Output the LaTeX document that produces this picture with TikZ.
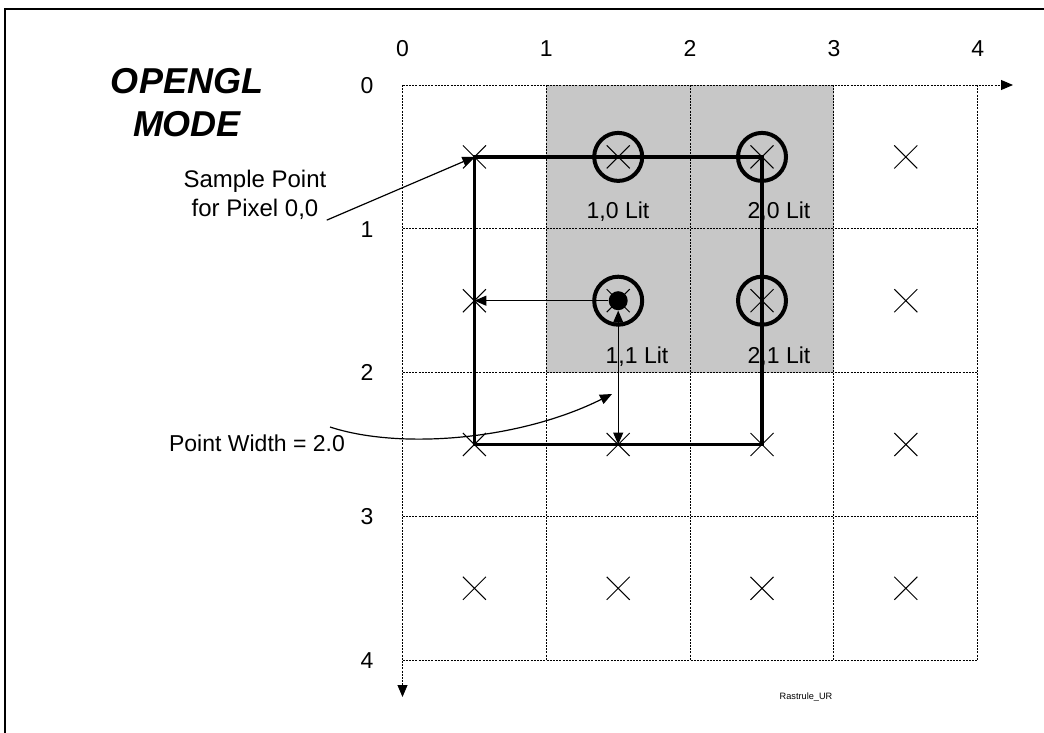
\documentclass[tikz,border=0pt]{standalone}
\usepackage{fontspec}
\setmainfont{Liberation Sans}
\usetikzlibrary{arrows.meta,shapes.misc}

\tikzset{
  dotgrid/.style = {line width=0.45pt, dash pattern=on 1pt off 0.6pt},
  sample/.style = {cross out, draw, line width=0.5pt, minimum size=11pt, inner sep=0pt},
  lit/.style = {line width=2pt},
  tip/.style = {line width=0.6pt, -{Triangle[length=6pt,width=5pt]}},
  lbl/.style = {inner sep=0pt, font=\fontsize{11.5}{14.5}\selectfont},
  num/.style = {lbl, text height=8.2pt, text depth=0pt}
}

\begin{document}
\begin{tikzpicture}[x = 0.5pt, y = -0.5pt]
\useasboundingbox (0,0) rectangle (1044,733);
\draw [line width=1pt] (5,733) -- (5,9) -- (1044,9);
% lit pixels
\fill [black!22] (546.3,85) rectangle (833.9,372.6);
% pixel grid
\foreach \i in {1,...,4} {
  \draw [dotgrid] (402.5+143.8*\i,85) -- (402.5+143.8*\i,660.2);
  \draw [dotgrid] (402.5,85+143.8*\i) -- (977.7,85+143.8*\i);
}
\draw [dotgrid, -{Triangle[length=6pt,width=5pt]}] (402.5,85) -- (1013,85);
\draw [dotgrid, -{Triangle[length=6pt,width=5pt]}] (402.5,85) -- (402.5,697);
\foreach \i in {0,...,4} {
  \node [num] (col\i) at (402.5+143.8*\i,48) {\i};
  \node [num] (row\i) at (367,85+143.8*\i) {\i};
}
% sample points
\foreach \c in {0,...,3}
  \foreach \r in {0,...,3}
    \node [sample] (p\c\r) at (474.4+143.8*\c,156.9+143.8*\r) {};
\draw [line width=1.8pt] (p00.center) rectangle (p22.center);
\foreach \p in {p10,p20,p11,p21}
  \draw [lit] (\p) circle [radius=12pt];
\node [circle, fill, minimum size=9.5pt, inner sep=0pt] (hit) at (p11) {};
\node [num] (lit10) at (618,210) {1,0 Lit};
\node [num] (lit20) at (779,210) {2,0 Lit};
\node [num] (lit11) at (637,355) {1,1 Lit};
\node [num] (lit21) at (779,355) {2,1 Lit};
% point width
\draw [tip] (hit.west) -- (p01.center);
\draw [tip, {Triangle[length=6pt,width=5pt]}-{Triangle[length=6pt,width=5pt]}] (hit.south) -- (p12.center);
% labels
\node [align=center, inner sep=0pt, font=\fontsize{18}{21.5}\selectfont\bfseries\itshape] (mode) at (187,103) {OPENGL\\MODE};
\node [align=center, inner sep=0pt, font=\fontsize{12}{14.5}\selectfont] (sampletxt) at (255,195) {Sample Point\\for Pixel 0,0};
\draw [tip] (sampletxt.south east) -- (p00.center);
\node [num] (widthtxt) at (257,443) {Point Width = 2.0};
\coordinate (wstart) at (330,427);
\coordinate (wend) at (612,394);
\draw [tip] (wstart) .. controls (400,450) and (520,440) .. (wend);
\node [inner sep=0pt, font=\fontsize{4.6}{5}\selectfont] (tag) at (806,697) {Rastrule\_UR};
\end{tikzpicture}
\end{document}
